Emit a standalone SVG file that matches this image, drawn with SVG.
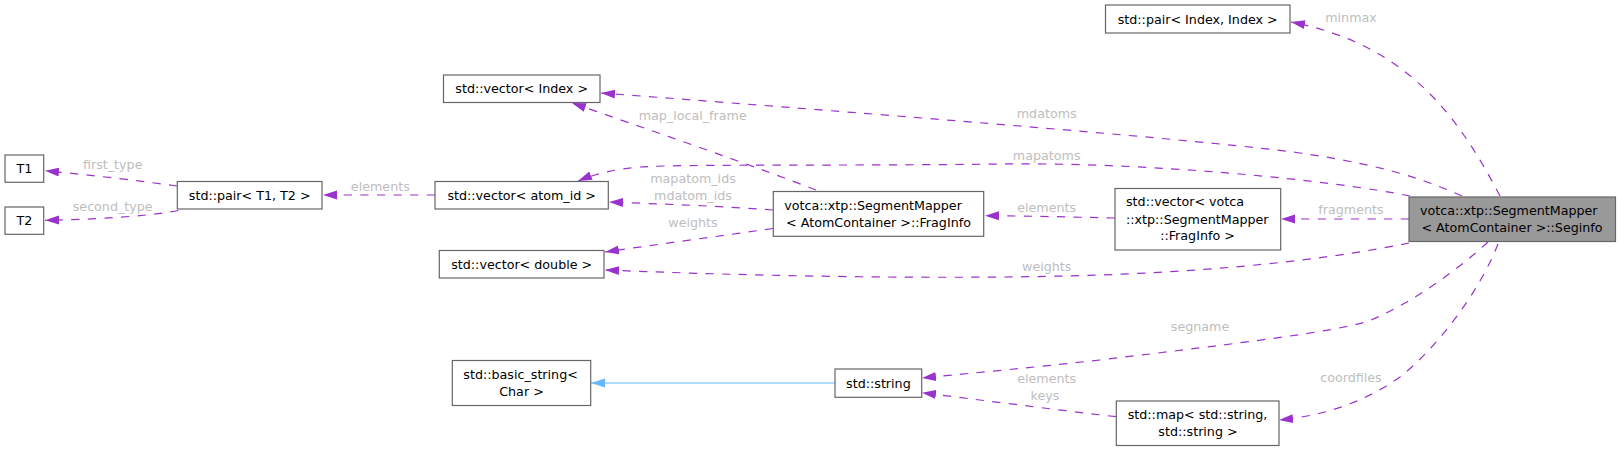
<svg xmlns="http://www.w3.org/2000/svg" width="1621" height="451" viewBox="0 0 1621 451">
<style>
  .box { fill: #ffffff; stroke: #666666; stroke-width: 1.2; }
  .boxh { fill: #999999; stroke: #666666; stroke-width: 1.2; }
  .t { font-family: "DejaVu Sans", "Liberation Sans", sans-serif; font-size: 12.7px; fill: #000000; }
  .c { text-anchor: middle; }
  .l { text-anchor: start; }
  .lbl { font-family: "DejaVu Sans", "Liberation Sans", sans-serif; font-size: 12.7px; fill: #bebebe; text-anchor: middle; }
  .e { fill: none; stroke: #9a32cd; stroke-width: 1.2; stroke-dasharray: 8.3,8.3; marker-end: url(#ap); }
  .inh { fill: none; stroke: #63b8ff; stroke-width: 1.2; marker-end: url(#ab); }
</style>
<defs>
  <marker id="ap" markerUnits="userSpaceOnUse" markerWidth="14" markerHeight="10" viewBox="0 0 14 10" refX="14" refY="5" orient="auto">
    <path d="M14,5 L0,0.5 L0,9.5 z" fill="#9a32cd" stroke="none"/>
  </marker>
  <marker id="ab" markerUnits="userSpaceOnUse" markerWidth="14" markerHeight="10" viewBox="0 0 14 10" refX="14" refY="5" orient="auto">
    <path d="M14,5 L0,0.5 L0,9.5 z" fill="#63b8ff" stroke="none"/>
  </marker>
</defs>
<rect width="1621" height="451" fill="#ffffff"/>

<g id="connectors">
  <path class="e" d="M177,186 C140,181 100,176 45,170.7"/>
  <path class="e" d="M178.5,210.5 C160,214 120,219 45,220.3"/>
  <path class="e" d="M435,195 L323,195"/>
  <path class="e" d="M816,190 C760,168 650,130 572,103"/>
  <path class="e" d="M773,210 C720,206 660,204 609,202"/>
  <path class="e" d="M773,228.5 C720,236 660,244 605,252"/>
  <path class="e" d="M1115,218 C1070,217 1030,216 985,215.7"/>
  <path class="e" d="M1500,196 C1460,120 1410,45 1291,22"/>
  <path class="e" d="M1462,196 C1430,182 1390,166 1300,153 C1200,139 800,108 601,93"/>
  <path class="e" d="M1410,196 C1330,180 1150,162 1000,164 C850,166 680,164 640,167 C615,169 595,174 578,181"/>
  <path class="e" d="M1409,219 L1281,219"/>
  <path class="e" d="M1409,243 C1340,257 1240,270 1100,275 C950,280 750,276 605,270"/>
  <path class="e" d="M1488,242 C1460,268 1410,305 1366,322 C1330,332 1250,342 1100,360 C1000,371 960,374 922,378"/>
  <path class="e" d="M1498,244 C1480,290 1440,345 1400,377 C1360,405 1320,416 1279,420"/>
  <path class="e" d="M1116,416.7 C1050,409 980,400 922,392.7"/>
  <path class="inh" d="M835,383 L591,383"/>

  <text class="lbl" x="112.7" y="169">first_type</text>
  <text class="lbl" x="112.7" y="210.5">second_type</text>
  <text class="lbl" x="380.3" y="190.5">elements</text>
  <text class="lbl" x="692.7" y="119.5">map_local_frame</text>
  <text class="lbl" x="693" y="182.5">mapatom_ids</text>
  <text class="lbl" x="693" y="199.5">mdatom_ids</text>
  <text class="lbl" x="693" y="227">weights</text>
  <text class="lbl" x="1046.7" y="211.5">elements</text>
  <text class="lbl" x="1351" y="22">minmax</text>
  <text class="lbl" x="1046.7" y="118">mdatoms</text>
  <text class="lbl" x="1046.7" y="159.5">mapatoms</text>
  <text class="lbl" x="1351" y="214">fragments</text>
  <text class="lbl" x="1046.7" y="270.5">weights</text>
  <text class="lbl" x="1200" y="330.5">segname</text>
  <text class="lbl" x="1351" y="382">coordfiles</text>
  <text class="lbl" x="1046.7" y="383">elements</text>
  <text class="lbl" x="1045" y="400">keys</text>
</g>

<g id="seginfo">
  <rect class="boxh" x="1409" y="197" width="206.5" height="44.5"/>
  <text class="t l" x="1420" y="214.5">votca::xtp::SegmentMapper</text>
  <text class="t c" x="1512" y="231.5">&lt; AtomContainer &gt;::Seginfo</text>
</g>
<g id="pair_index">
  <rect class="box" x="1105.5" y="5" width="184.5" height="28"/>
  <text class="t c" x="1197.7" y="23.5">std::pair&lt; Index, Index &gt;</text>
</g>
<g id="vector_index">
  <rect class="box" x="443.5" y="75" width="156.5" height="27.5"/>
  <text class="t c" x="521.7" y="93">std::vector&lt; Index &gt;</text>
</g>
<g id="vector_atom_id">
  <rect class="box" x="435" y="181.5" width="173.3" height="27.5"/>
  <text class="t c" x="521.7" y="199.5">std::vector&lt; atom_id &gt;</text>
</g>
<g id="pair_t1_t2">
  <rect class="box" x="177.3" y="181.5" width="144.7" height="27.5"/>
  <text class="t c" x="249.7" y="199.5">std::pair&lt; T1, T2 &gt;</text>
</g>
<g id="t1">
  <rect class="box" x="5" y="155" width="38.7" height="27.3"/>
  <text class="t c" x="24.4" y="173">T1</text>
</g>
<g id="t2">
  <rect class="box" x="5" y="207" width="38.7" height="27.3"/>
  <text class="t c" x="24.4" y="225">T2</text>
</g>
<g id="fraginfo">
  <rect class="box" x="773.3" y="191.5" width="210.4" height="44.8"/>
  <text class="t l" x="784.3" y="210">votca::xtp::SegmentMapper</text>
  <text class="t c" x="878.5" y="226.7">&lt; AtomContainer &gt;::FragInfo</text>
</g>
<g id="vector_double">
  <rect class="box" x="439.3" y="250.5" width="164.7" height="27.5"/>
  <text class="t c" x="521.7" y="268.5">std::vector&lt; double &gt;</text>
</g>
<g id="vector_fraginfo">
  <rect class="box" x="1115" y="188.5" width="165.7" height="61.5"/>
  <text class="t l" x="1126" y="206.2">std::vector&lt; votca</text>
  <text class="t l" x="1126" y="223.5">::xtp::SegmentMapper</text>
  <text class="t c" x="1197.5" y="240.2">::FragInfo &gt;</text>
</g>
<g id="std_string">
  <rect class="box" x="835" y="369" width="86.7" height="28.3"/>
  <text class="t c" x="878.4" y="387.5">std::string</text>
</g>
<g id="basic_string">
  <rect class="box" x="452.3" y="360.5" width="138.4" height="45"/>
  <text class="t l" x="463.3" y="379">std::basic_string&lt;</text>
  <text class="t c" x="521.5" y="395.7">Char &gt;</text>
</g>
<g id="map_string">
  <rect class="box" x="1116.3" y="401" width="162.7" height="44.5"/>
  <text class="t l" x="1127.7" y="419">std::map&lt; std::string,</text>
  <text class="t c" x="1198" y="435.7">std::string &gt;</text>
</g>
</svg>
